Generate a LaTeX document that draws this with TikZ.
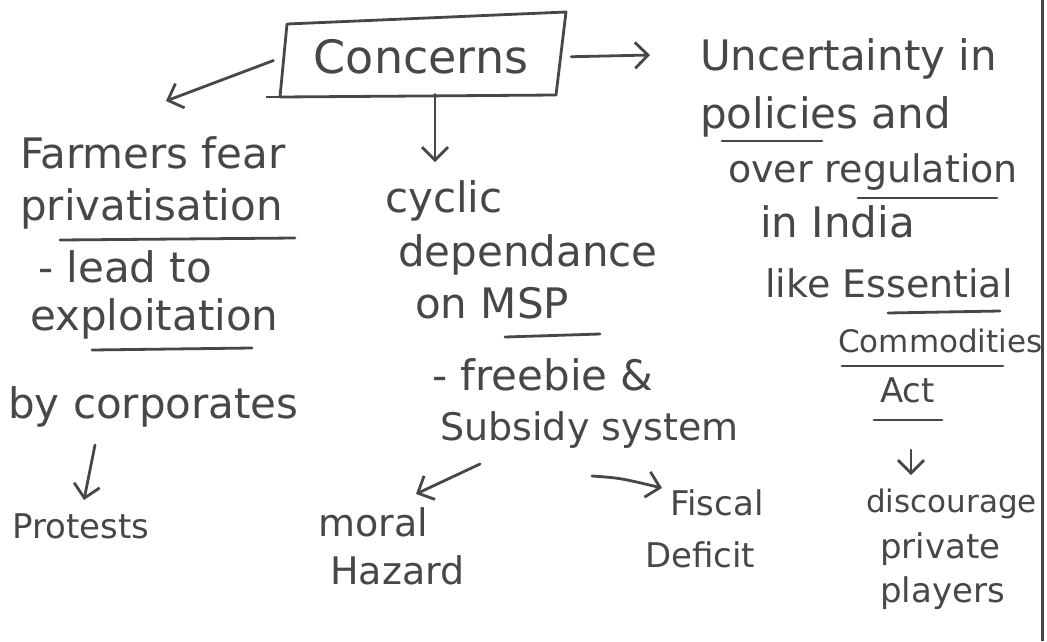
\documentclass[tikz,border=0pt]{standalone}
\usepackage{fontspec}
\setmainfont{DejaVu Sans}
\usetikzlibrary{arrows.meta}
\definecolor{ink}{HTML}{474747}
\tikzset{
  hw/.style={font=\fontsize{42}{44}\selectfont, text=ink, inner sep=0pt, anchor=base west},
  mid/.style={font=\fontsize{38}{40}\selectfont},
  small/.style={font=\fontsize{34}{36}\selectfont},
  tiny/.style={font=\fontsize{31}{33}\selectfont},
  arr/.style={draw=ink, line width=2.8pt, line cap=round,
    -{Straight Barb[length=13pt,width=26pt,line width=2.8pt]}},
  uline/.style={draw=ink, line width=2.8pt, line cap=round},
  frame/.style={draw=ink, line width=2.8pt, line join=round},
  boxtext/.style={minimum width=276pt, minimum height=74pt,
    font=\fontsize{46}{48}\selectfont, text=ink, inner sep=0pt}
}
\begin{document}
\begin{tikzpicture}[x=1pt,y=-1pt]
\useasboundingbox[fill=white] (0,0) rectangle (1047,641);
% right margin rule
\draw[ink, line width=3pt] (1042,0) -- (1042,641);

% central box, hand-drawn slanted outline
\node[boxtext] (concerns) at (421,57) {Concerns};
\draw[frame] (287,24) -- (566,12) -- (556,95) -- (280,97) -- cycle;
\draw[frame] (280,97) -- (266,97);

% left branch
\node[hw] (farmers) at (20,168) {Farmers fear};
\node[hw] (privat) at (20,220) {privatisation};
\node[hw] (lead) at (38,282) {- lead to};
\node[hw] (exploit) at (30,330) {exploitation};
\node[hw] (bycorp) at (8,418) {by corporates};
\node[hw, small] (protests) at (12,538) {Protests};

% middle branch
\node[hw] (cyclic) at (385,212) {cyclic};
\node[hw] (depend) at (398,266) {dependance};
\node[hw] (msp) at (415,318) {on MSP};
\node[hw] (freebie) at (432,390) {- freebie \&};
\node[hw, mid] (subsidy) at (440,440) {Subsidy system};
\node[hw, mid] (moral) at (318,536) {moral};
\node[hw, mid] (hazard) at (330,584) {Hazard};
\node[hw, small] (fiscal) at (670,515) {Fiscal};
\node[hw, small] (deficit) at (645,567) {Deficit};

% right branch
\node[hw] (uncert) at (700,70) {Uncertainty in};
\node[hw] (policies) at (700,128) {policies and};
\node[hw, mid] (over) at (728,182) {over regulation};
\node[hw] (india) at (760,237) {in India};
\node[hw, mid] (like) at (765,297) {like Essential};
\node[hw, tiny] (commod) at (838,352) {Commodities};
\node[hw, small] (act) at (880,402) {Act};
\node[hw, tiny] (discour) at (866,512) {discourage};
\node[hw, small] (private) at (880,558) {private};
\node[hw, small] (players) at (880,602) {players};

% underlines
\draw[uline] (60,240) -- (295,238);
\draw[uline] (92,350) -- (252,348);
\draw[uline] (505,337) -- (600,334);
\draw[uline] (722,141) -- (822,141);
\draw[uline] (858,198) -- (997,198);
\draw[uline] (888,313) -- (1000,311);
\draw[uline] (842,366) -- (1003,366);
\draw[uline] (874,420) -- (942,420);

% arrow ends
\coordinate (tipL) at (166,101);
\coordinate (tipR) at (650,55);
\coordinate (tipD) at (435,162);
\coordinate (fromCorp) at (95,445);
\coordinate (tipProt) at (84,500);
\coordinate (fromSubL) at (480,464);
\coordinate (tipMoral) at (416,494);
\coordinate (fromSubR) at (592,476);
\coordinate (tipFiscal) at (662,488);
\coordinate (fromAct) at (911,450);
\coordinate (tipDisc) at (911,475);

% connectors
\draw[arr, shorten <=10pt] (concerns.west) -- (tipL);
\draw[arr, shorten <=12pt] (concerns.east) -- (tipR);
\draw[arr] (concerns.south -| tipD) -- (tipD);
\draw[arr] (fromCorp) -- (tipProt);
\draw[arr] (fromSubL) -- (tipMoral);
\draw[arr] (fromSubR) .. controls (620,478) .. (tipFiscal);
\draw[arr] (fromAct) -- (tipDisc);
\end{tikzpicture}
\end{document}
